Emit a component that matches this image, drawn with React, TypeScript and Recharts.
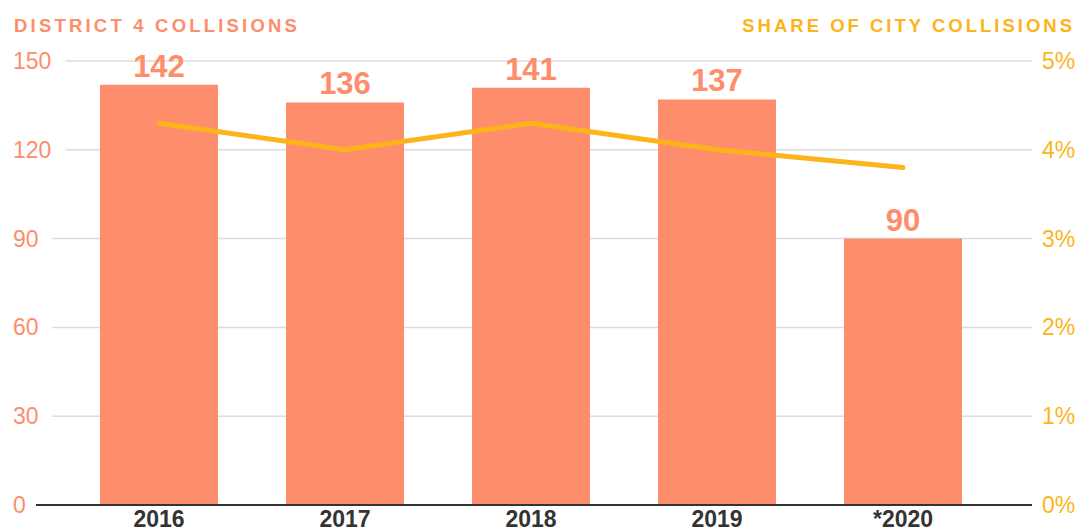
import React from 'react';
import { ComposedChart, Bar, Line, XAxis, YAxis, CartesianGrid, LabelList } from 'recharts';

const years = ['2016', '2017', '2018', '2019', '*2020'];
const collisions = [142, 136, 141, 137, 90];
const cityShare = [0.043, 0.04, 0.043, 0.04, 0.038];
const leftTicks = [0, 30, 60, 90, 120, 150];
const rightTicks = [0, 0.01, 0.02, 0.03, 0.04, 0.05];

const SALMON = '#fe8d6b';
const GOLD = '#fcb41b';
const FONT = '"Liberation Sans", Arial, sans-serif';

const chartData = years.map((year, i) => ({
  year,
  collisions: collisions[i],
  share: cityShare[i],
}));

// grid lines start just after the left tick label
const gridStart = (value: number) => 13 + 13.3 * String(value).length + 12.5;

const LeftTick = (props: any) => {
  const { y, payload } = props;
  return (
    <text x={13} y={y} dy={8} textAnchor="start" fill={SALMON} fontSize={23} fontFamily={FONT}>
      {payload.value}
    </text>
  );
};

const RightTick = (props: any) => {
  const { x, y, payload } = props;
  return (
    <text x={x + 2} y={y} dy={8} textAnchor="start" fill={GOLD} fontSize={23} fontFamily={FONT}>
      {Math.round(payload.value * 100)}%
    </text>
  );
};

const BottomTick = (props: any) => {
  const { x, y, payload } = props;
  return (
    <text x={x} y={y} dy={20} textAnchor="middle" fill="#333" fontSize={23} fontWeight={700} fontFamily={FONT}>
      {payload.value}
    </text>
  );
};

const GridLine = (props: any) => {
  const { x2, y1, index } = props;
  const value = leftTicks[index];
  if (value === undefined || value === 0) return null;
  return <line key={`g-${index}`} x1={gridStart(value)} x2={x2} y1={y1} y2={y1} stroke="#dcdcdc" strokeWidth={1.5} />;
};

const titleStyle: React.CSSProperties = {
  position: 'absolute',
  top: 15,
  fontFamily: FONT,
  fontWeight: 700,
  fontSize: 18.5,
  lineHeight: '22px',
  letterSpacing: 3.2,
  whiteSpace: 'nowrap',
};

export default function App() {
  return (
    <div style={{ position: 'absolute', left: 0, top: 0, width: 1076, height: 531, background: '#fff', overflow: 'hidden' }}>
      <div style={{ ...titleStyle, left: 14, color: SALMON }}>DISTRICT 4 COLLISIONS</div>
      <div style={{ ...titleStyle, right: 1, color: GOLD, letterSpacing: 3.0 }}>SHARE OF CITY COLLISIONS</div>
      <ComposedChart
        width={1076}
        height={531}
        data={chartData}
        margin={{ top: 61, right: 0, left: 0, bottom: 0 }}
        barSize={118}
      >
        <CartesianGrid vertical={false} horizontal={GridLine} yAxisId="left" />
        <XAxis
          dataKey="year"
          height={26}
          padding={{ left: 30, right: 36 }}
          axisLine={{ stroke: '#333', strokeWidth: 2 }}
          tickLine={false}
          tickSize={0}
          interval={0}
          tick={BottomTick}
        />
        <YAxis
          yAxisId="left"
          orientation="left"
          width={36}
          domain={[0, 150]}
          ticks={leftTicks}
          axisLine={false}
          tickLine={false}
          tick={LeftTick}
        />
        <YAxis
          yAxisId="right"
          orientation="right"
          width={44}
          domain={[0, 0.05]}
          ticks={rightTicks}
          axisLine={false}
          tickLine={false}
          tick={RightTick}
        />
        <Bar yAxisId="left" dataKey="collisions" fill={SALMON} isAnimationActive={false}>
          <LabelList
            dataKey="collisions"
            position="top"
            offset={8}
            fill={SALMON}
            fontSize={31}
            fontWeight={700}
            fontFamily={FONT}
          />
        </Bar>
        <Line
          yAxisId="right"
          type="linear"
          dataKey="share"
          stroke={GOLD}
          strokeWidth={5}
          strokeLinecap="round"
          dot={false}
          activeDot={false}
          isAnimationActive={false}
        />
      </ComposedChart>
    </div>
  );
}
